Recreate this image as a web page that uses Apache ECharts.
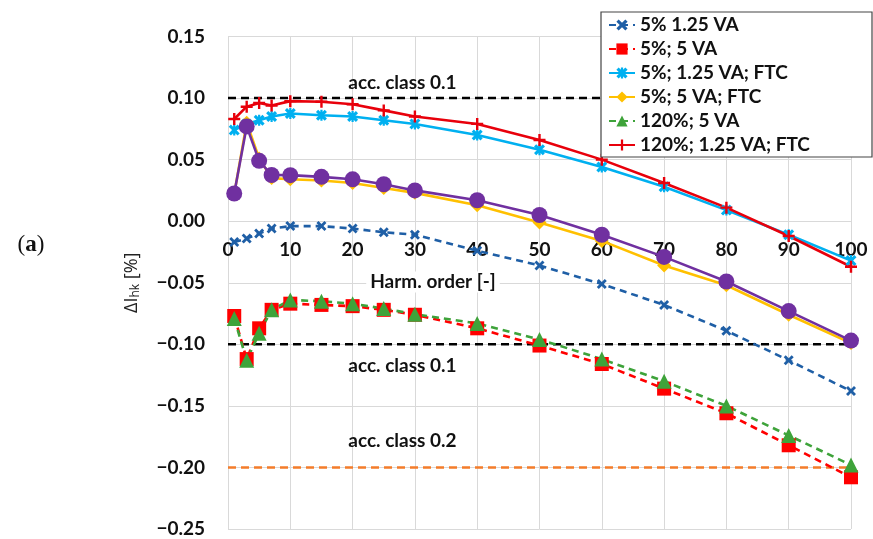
<!DOCTYPE html>
<html><head><meta charset="utf-8">
<script src="https://cdn.jsdelivr.net/npm/echarts@6/dist/echarts.min.js"></script>
<style>html,body{margin:0;padding:0;background:#fff}#c{width:873px;height:539px}</style>
</head><body><div id="c"></div>
<script>
// Harmonic orders (x)
const harmonics = [1, 3, 5, 7, 10, 15, 20, 25, 30, 40, 50, 60, 70, 80, 90, 100];
// Series values, ΔI_hk [%]
const s5_125VA      = [-0.017, -0.014, -0.010, -0.006, -0.004, -0.004, -0.006, -0.009, -0.011, -0.024, -0.036, -0.051, -0.068, -0.089, -0.113, -0.138];
const s5_5VA        = [-0.077, -0.112, -0.087, -0.072, -0.067, -0.068, -0.069, -0.072, -0.076, -0.087, -0.101, -0.116, -0.136, -0.156, -0.182, -0.208];
const s5_125VA_FTC  = [0.074, 0.079, 0.082, 0.085, 0.0875, 0.086, 0.085, 0.082, 0.079, 0.070, 0.058, 0.044, 0.028, 0.009, -0.011, -0.032];
const s5_5VA_FTC    = [0.022, 0.080, 0.051, 0.035, 0.034, 0.033, 0.031, 0.027, 0.023, 0.013, -0.001, -0.016, -0.036, -0.052, -0.076, -0.099];
const s120_5VA      = [-0.079, -0.113, -0.091, -0.072, -0.064, -0.065, -0.067, -0.071, -0.0755, -0.083, -0.096, -0.112, -0.130, -0.150, -0.174, -0.198];
const s120_125VA_FTC= [0.083, 0.093, 0.096, 0.094, 0.0975, 0.097, 0.095, 0.090, 0.085, 0.079, 0.066, 0.050, 0.031, 0.011, -0.012, -0.037];
const sUnlabelled   = [0.0225, 0.077, 0.049, 0.0375, 0.0374, 0.036, 0.034, 0.030, 0.025, 0.017, 0.005, -0.011, -0.029, -0.049, -0.073, -0.097];
// Series names (legend)
const seriesNames = ['5% 1.25 VA', '5%; 5 VA', '5%; 1.25 VA; FTC', '5%; 5 VA; FTC', '120%; 5 VA', '120%; 1.25 VA; FTC'];
// Accuracy class limits
const accLevels = [0.1, -0.1, -0.2];
const accLabels = ['acc. class 0.1', 'acc. class 0.1', 'acc. class 0.2'];
const accLabelX = [28, 28, 28];
const accRange = [0, 100];
// Axis ticks
const xTicks = { min: 0, max: 100, interval: 10 };
const yTicks = { min: -0.25, max: 0.15, interval: 0.05 };

const FONT = 'Lato';
const pts = arr => harmonics.map((h, i) => [h, arr[i]]);

const SYM_X = 'path://M2,0 L5,3 L8,0 L10,2 L7,5 L10,8 L8,10 L5,7 L2,10 L0,8 L3,5 L0,2 Z';
const SYM_AST = 'path://M2,0 L5,3 L8,0 L10,2 L7,5 L10,8 L8,10 L5,7 L2,10 L0,8 L3,5 L0,2 Z M4,0 H6 V10 H4 Z';
const SYM_PLUS = 'path://M4,0 H6 V4 H10 V6 H6 V10 H4 V6 H0 V4 H4 Z';

function dataSeries(name, arr, color, dashed, symbol, size, z) {
  return {
    name: name, type: 'line', data: pts(arr), z: z,
    symbol: symbol, symbolSize: size,
    lineStyle: { color: color, width: 2.6, type: dashed ? [7, 5] : 'solid' },
    itemStyle: { color: color },
    emphasis: { disabled: true }
  };
}
function refSeries(level, label, lx, color) {
  return {
    name: 'ref' + level, type: 'line', z: 1,
    data: [[accRange[0], level], [accRange[1], level]],
    symbol: 'none',
    lineStyle: { color: color, width: 2.6, type: [8, 5] },
    markPoint: {
      symbol: 'circle', symbolSize: 0,
      data: [{ coord: [lx, level] }],
      label: { show: true, formatter: label, position: 'inside',
        offset: [0, level === -0.1 ? 22 : (level === -0.2 ? -27 : -15)],
        fontFamily: FONT, fontWeight: 'bold', fontSize: 19, color: '#111' }
    }
  };
}

const GRID_TOP = 36.5, GRID_BOTTOM = 10, H = 539;
const plotH = H - GRID_TOP - GRID_BOTTOM;
// distance from bottom edge of grid up to the y = 0 line
const zeroOffset = plotH * (0 - yTicks.min) / (yTicks.max - yTicks.min);

const chart = echarts.init(document.getElementById('c'), null, { renderer: 'canvas' });
chart.setOption({
  animation: false,
  backgroundColor: '#fff',
  grid: { left: 228, right: 22, top: GRID_TOP, bottom: GRID_BOTTOM, containLabel: false, outerBoundsMode: 'none' },
  xAxis: {
    type: 'value', min: xTicks.min, max: xTicks.max, interval: xTicks.interval,
    position: 'bottom', offset: -zeroOffset,
    axisLine: { show: false, onZero: false },
    axisTick: { show: false },
    splitLine: { show: true, lineStyle: { color: '#d9d9d9', width: 1 } },
    axisLabel: { margin: 19, fontFamily: FONT, fontWeight: 'bold', fontSize: 19, color: '#111' }
  },
  yAxis: {
    type: 'value', min: yTicks.min, max: yTicks.max, interval: yTicks.interval,
    axisLine: { show: false }, axisTick: { show: false },
    splitLine: { show: true, lineStyle: { color: '#d9d9d9', width: 1 } },
    axisLabel: { margin: 23, fontFamily: FONT, fontWeight: 'bold', fontSize: 19, color: '#111',
      formatter: v => (v < -1e-9 ? '\u2212' : '') + Math.abs(v).toFixed(2) },
    name: '{a|\u0394I}{s|hk}{a| [%]}', nameLocation: 'middle', nameGap: 86, nameRotate: 90,
    nameTextStyle: { rich: {
      a: { fontFamily: 'Open Sans', fontSize: 18, color: '#222' },
      s: { fontFamily: 'Open Sans', fontSize: 12, color: '#222', padding: [9, 0, 0, 0] }
    } }
  },
  legend: {
    data: seriesNames, orient: 'vertical', left: 608, top: 15, padding: 0,
    itemWidth: 26, itemHeight: 14, itemGap: 4, z: 6,
    textStyle: { fontFamily: FONT, fontWeight: 'bold', fontSize: 19, color: '#111', lineHeight: 20 }
  },
  graphic: [
    { type: 'rect', z: 5, shape: { x: 601, y: 12, width: 271, height: 145 },
      style: { fill: '#fff', stroke: '#444', lineWidth: 1.2 } },
    { type: 'text', x: 31, y: 245,
      style: { text: '{p|(}{b|a}{p|)}', textAlign: 'center', textVerticalAlign: 'middle',
        rich: { p: { fontFamily: 'Liberation Serif', fontSize: 23, fill: '#111' },
                b: { fontFamily: 'Liberation Serif', fontSize: 23, fontWeight: 'bold', fill: '#111' } } } },
    { type: 'text', x: 433, y: 282, z: 3, style: { text: 'Harm. order [-]', textAlign: 'center', textVerticalAlign: 'middle',
        fontFamily: FONT, fontWeight: 'bold', fontSize: 19, fill: '#111',
        backgroundColor: '#fff', padding: [1, 4, 1, 4] } }
  ],
  series: [
    refSeries(accLevels[0], accLabels[0], accLabelX[0], '#000'),
    refSeries(accLevels[1], accLabels[1], accLabelX[1], '#000'),
    refSeries(accLevels[2], accLabels[2], accLabelX[2], '#f47c2a'),
    dataSeries(seriesNames[0], s5_125VA, '#1f5fa6', true, SYM_X, 10, 2),
    dataSeries(seriesNames[1], s5_5VA, '#ff0000', true, 'rect', 14, 2),
    dataSeries(seriesNames[2], s5_125VA_FTC, '#00b0f0', false, SYM_AST, 11, 2),
    dataSeries(seriesNames[3], s5_5VA_FTC, '#ffc000', false, 'diamond', 14, 2),
    dataSeries(seriesNames[4], s120_5VA, '#3ea33a', true, 'triangle', 15, 2),
    dataSeries(seriesNames[5], s120_125VA_FTC, '#e8000b', false, SYM_PLUS, 12, 2),
    dataSeries('unlabelled', sUnlabelled, '#7030a0', false, 'circle', 16, 2)
  ]
});
</script>
</body></html>
